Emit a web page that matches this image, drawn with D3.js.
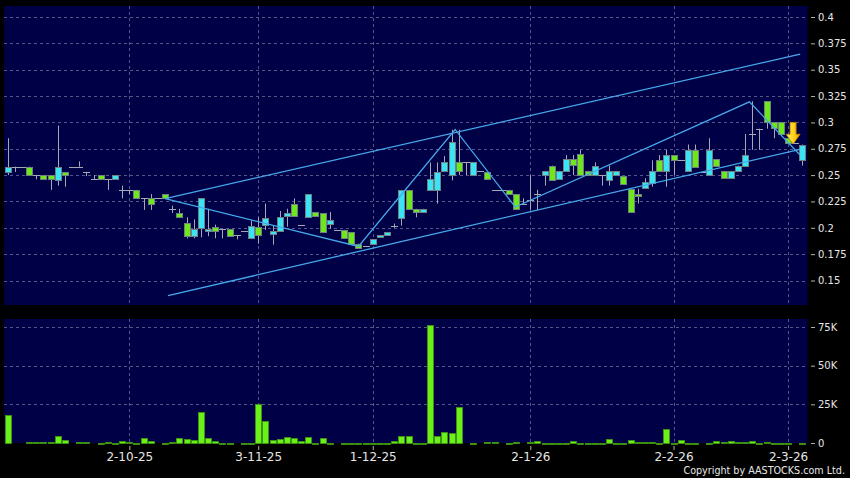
<!DOCTYPE html>
<html>
<head>
<meta charset="utf-8">
<script src="https://cdn.jsdelivr.net/npm/d3@7"></script>
<style>
  body { margin: 0; background: #000; }
  svg { display: block; }
</style>
</head>
<body>
<svg id="chart" width="850" height="478"></svg>
<script>
// daily OHLC, index 0 = first session shown
var openP = [.253,.258,.258,.258,.250,.250,.250,.246,.253,.258,.258,.253,.246,.250,.246,.246,.236,.236,.236,.228,
             .228,.228,.232,.218,.214,.205,.192,.200,.198,.201,.199,.199,.193,.197,.191,.201,.202,.194,.197,.211,
             .223,.203,.210,.215,.214,.203,.198,.198,.196,.185,.183,.184,.191,.193,.202,.209,.236,.218,.215,.236,
             .236,.253,.250,.262,.262,.250,.254,.253,.236,.236,.236,.232,.223,.226,.232,.250,.259,.246,.254,.265,
             .270,.254,.250,.250,.245,.250,.249,.237,.232,.237,.243,.264,.254,.269,.264,.254,.274,.253,.250,.265,
             .254,.247,.254,.259,.289,.294,.320,.300,.300,.285,.280,.265];
var highP = [.285,.258,.258,.258,.250,.250,.250,.297,.253,.258,.263,.253,.250,.250,.246,.250,.240,.236,.236,.228,
             .232,.228,.232,.221,.218,.210,.208,.228,.218,.203,.199,.199,.193,.197,.207,.210,.223,.202,.216,.218,
             .228,.203,.232,.215,.214,.215,.198,.198,.196,.185,.183,.189,.193,.196,.204,.236,.236,.218,.218,.262,
             .262,.268,.293,.293,.262,.262,.254,.253,.236,.236,.236,.232,.228,.250,.236,.254,.259,.254,.269,.269,
             .274,.254,.262,.250,.259,.254,.249,.237,.237,.247,.264,.269,.274,.269,.264,.279,.279,.253,.285,.265,
             .254,.254,.259,.289,.320,.294,.320,.300,.300,.285,.280,.279];
var lowP  = [.250,.253,.258,.250,.246,.246,.236,.240,.239,.258,.258,.249,.246,.246,.236,.246,.228,.232,.228,.217,
             .217,.228,.228,.214,.210,.190,.190,.191,.192,.190,.190,.192,.189,.197,.191,.185,.198,.184,.197,.201,
             .212,.203,.210,.211,.195,.199,.198,.190,.185,.181,.183,.184,.191,.193,.200,.202,.218,.210,.215,.236,
             .223,.253,.245,.250,.250,.250,.254,.246,.236,.236,.232,.218,.223,.217,.217,.240,.246,.246,.254,.250,
             .250,.250,.250,.240,.240,.250,.241,.214,.223,.237,.239,.254,.239,.250,.264,.254,.258,.253,.250,.258,
             .247,.247,.254,.259,.274,.274,.294,.285,.289,.280,.280,.259];
var closeP = [.258,.258,.258,.250,.250,.246,.246,.258,.250,.258,.258,.253,.246,.246,.246,.250,.236,.236,.228,.228,
             .222,.228,.228,.218,.210,.193,.199,.228,.199,.197,.199,.192,.193,.197,.202,.193,.209,.197,.210,.214,
             .212,.203,.232,.211,.196,.207,.198,.190,.185,.181,.183,.189,.193,.196,.202,.236,.218,.215,.218,.246,
             .253,.262,.281,.253,.262,.262,.254,.246,.236,.236,.232,.218,.223,.226,.232,.254,.246,.254,.265,.259,
             .250,.250,.259,.250,.254,.254,.241,.215,.230,.243,.254,.254,.269,.264,.264,.274,.258,.253,.274,.258,
             .247,.254,.259,.269,.289,.294,.300,.294,.289,.280,.280,.279];
var volume = [18300,0,0,900,500,800,800,4700,2100,0,400,400,0,300,500,300,1300,900,200,3000,
              1100,0,300,400,3200,2800,2100,20000,3000,1500,300,300,0,300,300,25400,14200,2100,2800,3900,
              3000,1300,4100,200,3400,200,0,300,300,300,300,300,200,200,1300,4700,4700,200,200,76400,
              4500,7200,6700,23300,0,300,0,500,500,0,300,600,0,600,1300,300,300,200,300,1300,
              300,300,300,300,2300,300,300,1900,800,600,800,300,9200,300,2200,300,300,0,300,1200,
              800,1300,400,500,1300,300,900,300,300,300,0,300];

var tickIdx = [17, 35, 51, 73, 93, 109];
var tickLabels = ["2-10-25", "3-11-25", "1-12-25", "2-1-26", "2-2-26", "2-3-26"];
var priceTicks = [0.15, 0.175, 0.2, 0.225, 0.25, 0.275, 0.3, 0.325, 0.35, 0.375, 0.4];
var volTicks = [0, 25000, 50000, 75000];
var volLabels = ["0", "25K", "50K", "75K"];

// drawn trend lines: [index, price]
var zigzag = [[22, .2277], [49, .1823], [62.5, .2933], [70.9, .2197], [103.6, .3195], [110.7, .2688]];
var upperChannel = [[22, .2277], [110.7, .3648]];
var lowerChannel = [[22.4, .1357], [110.7, .2745]];
var signalArrow = { i: 109.7, top: .300, tip: .2795 };

var svg = d3.select("#chart"),
    font = "'DejaVu Sans', Verdana, sans-serif",
    textCol = "#e6e6e6",
    gridCol = "#55558a",
    upCol = "#3ae4f4",
    downCol = "#6ee81a";

var pricePanel = { left: 4, top: 6, right: 807.5, bottom: 305 },
    volPanel = { left: 4, top: 319, right: 807.5, bottom: 443 };

var x = d3.scaleLinear().domain([0, openP.length - 1]).range([7.6, 802.4]);
var yP = d3.scaleLinear().domain([0.15, 0.4]).range([280.5, 17]);
var yV = d3.scaleLinear().domain([0, 75000]).range([443, 327]);

svg.append("rect").attr("width", 850).attr("height", 478).attr("fill", "#000");

[pricePanel, volPanel].forEach(function (p) {
    svg.append("rect")
        .attr("x", p.left).attr("y", p.top)
        .attr("width", p.right - p.left).attr("height", p.bottom - p.top)
        .attr("fill", "#000046");
});

function px(v) { return Math.round(v) + 0.5; }

// grid
var grid = svg.append("g")
    .attr("stroke", gridCol).attr("stroke-width", 1).attr("stroke-dasharray", "3,3");

grid.selectAll(".hp").data(priceTicks).enter().append("line")
    .attr("x1", pricePanel.left).attr("x2", pricePanel.right)
    .attr("y1", function (d) { return px(yP(d)); }).attr("y2", function (d) { return px(yP(d)); });

grid.selectAll(".hv").data(volTicks.slice(1)).enter().append("line")
    .attr("x1", volPanel.left).attr("x2", volPanel.right)
    .attr("y1", function (d) { return px(yV(d)); }).attr("y2", function (d) { return px(yV(d)); });

tickIdx.forEach(function (d) {
    [pricePanel, volPanel].forEach(function (p) {
        grid.append("line")
            .attr("x1", px(x(d))).attr("x2", px(x(d)))
            .attr("y1", p.top).attr("y2", p.bottom);
    });
});

// volume bars
var volData = volume.map(function (v, i) { return { i: i, v: v }; })
    .filter(function (d) { return d.v > 0; });

svg.append("g").selectAll("rect").data(volData).enter().append("rect")
    .attr("x", function (d) { return Math.round(x(d.i)) - 2.5; })
    .attr("y", function (d) { return Math.round(yV(d.v)) + 0.5; })
    .attr("width", 6)
    .attr("height", function (d) { return Math.max(1, Math.round(yV(0) - yV(d.v))); })
    .attr("fill", "#6cf01a").attr("stroke", "#3f9a10").attr("stroke-width", 0.8);

// trend lines
var line = d3.line()
    .x(function (d) { return x(d[0]); })
    .y(function (d) { return yP(d[1]); });

var trends = svg.append("g").attr("fill", "none").attr("stroke", "#46a8ea").attr("stroke-width", 1.3);
[upperChannel, lowerChannel].forEach(function (t) {
    trends.append("path").attr("d", line(t));
});

// candles
var candles = svg.append("g");
openP.forEach(function (o, i) {
    var c = closeP[i], h = highP[i], l = lowP[i], cx = Math.round(x(i));
    if (h !== l) {
        candles.append("line")
            .attr("x1", cx + 0.5).attr("x2", cx + 0.5)
            .attr("y1", yP(h)).attr("y2", yP(l))
            .attr("stroke", "#a8a8b4").attr("stroke-width", 1);
    }
    if (o === c) {
        candles.append("line")
            .attr("x1", cx - 3).attr("x2", cx + 4)
            .attr("y1", px(yP(c))).attr("y2", px(yP(c)))
            .attr("stroke", "#a8a8b4").attr("stroke-width", 1);
    } else {
        var top = yP(Math.max(o, c)), bot = yP(Math.min(o, c));
        candles.append("rect")
            .attr("x", cx - 2.5).attr("y", Math.round(top) + 0.5)
            .attr("width", 6).attr("height", Math.max(2, Math.round(bot - top)))
            .attr("fill", c > o ? upCol : downCol)
            .attr("stroke", "#6f8080").attr("stroke-width", 1);
    }
});

trends.raise();
trends.append("path").attr("d", line(zigzag));

// signal arrow
var ax = x(signalArrow.i), aTop = yP(signalArrow.top), aTip = yP(signalArrow.tip),
    aNeck = aTop + (aTip - aTop) * 0.55;
var defs = svg.append("defs");
var grad = defs.append("linearGradient").attr("id", "arrowGrad")
    .attr("x1", 0).attr("x2", 1).attr("y1", 0).attr("y2", 0);
grad.append("stop").attr("offset", "0%").attr("stop-color", "#fff27a");
grad.append("stop").attr("offset", "60%").attr("stop-color", "#ffcc10");
grad.append("stop").attr("offset", "100%").attr("stop-color", "#e89a00");
svg.append("path")
    .attr("d", "M" + (ax - 3) + "," + aTop + "H" + (ax + 3) + "V" + aNeck +
        "H" + (ax + 7) + "L" + ax + "," + aTip + "L" + (ax - 7) + "," + aNeck +
        "H" + (ax - 3) + "Z")
    .attr("fill", "url(#arrowGrad)").attr("stroke", "#c88400").attr("stroke-width", 0.8);

// axes
function styleAxis(g, size) {
    g.select(".domain").remove();
    g.selectAll(".tick line").attr("stroke", "#b0b0b0");
    g.selectAll(".tick text").attr("fill", textCol)
        .style("font-family", font).style("font-size", size + "px");
}

svg.append("g")
    .attr("transform", "translate(811,0)")
    .call(d3.axisRight(yP).tickValues(priceTicks).tickSize(4).tickPadding(3)
        .tickFormat(function (d) { return String(+d.toFixed(3)); }))
    .call(styleAxis, 10);

svg.append("g")
    .attr("transform", "translate(811,0)")
    .call(d3.axisRight(yV).tickValues(volTicks).tickSize(4).tickPadding(3)
        .tickFormat(function (d, i) { return volLabels[i]; }))
    .call(styleAxis, 10);

svg.append("g")
    .attr("transform", "translate(0,446)")
    .call(d3.axisBottom(x).tickValues(tickIdx).tickSize(4).tickPadding(2)
        .tickFormat(function (d, i) { return tickLabels[i]; }))
    .call(styleAxis, 12);

svg.append("text")
    .attr("x", 845).attr("y", 474)
    .attr("text-anchor", "end")
    .attr("fill", textCol)
    .style("font-family", font).style("font-size", "9.6px")
    .text("Copyright by AASTOCKS.com Ltd.");
</script>
</body>
</html>
